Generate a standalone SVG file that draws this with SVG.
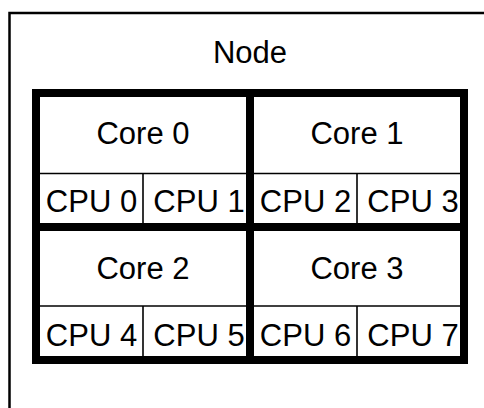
<svg xmlns="http://www.w3.org/2000/svg" width="484" height="408" viewBox="0 0 484 408">
  <style>
    .t { font-family: "Liberation Sans", Arial, sans-serif; font-size: 31px; fill: #000; text-anchor: middle; }
    .thick { fill: none; stroke: #000; stroke-width: 8; }
    .thin { fill: none; stroke: #000; stroke-width: 1.6; }
    .outer { fill: #fff; stroke: #000; stroke-width: 2.5; }
  </style>
  <rect width="484" height="408" fill="#fff"/>
  <g id="node">
    <rect class="outer" x="9.5" y="13" width="520" height="440"/>
    <text class="t" x="250" y="62.5">Node</text>
  </g>
  <g id="core0">
    <line class="thin" x1="40" y1="173.5" x2="246" y2="173.5"/>
    <g id="cpu0"><text class="t" x="91.5" y="211.5">CPU 0</text></g>
    <g id="cpu1"><line class="thin" x1="143" y1="173.5" x2="143" y2="223"/><text class="t" x="199" y="211.5">CPU 1</text></g>
    <rect class="thick" x="36" y="93" width="214" height="134"/>
    <text class="t" x="143" y="144">Core 0</text>
  </g>
  <g id="core1">
    <line class="thin" x1="254" y1="173.5" x2="460" y2="173.5"/>
    <g id="cpu2"><text class="t" x="305.5" y="211.5">CPU 2</text></g>
    <g id="cpu3"><line class="thin" x1="357" y1="173.5" x2="357" y2="223"/><text class="t" x="413" y="211.5">CPU 3</text></g>
    <rect class="thick" x="250" y="93" width="214" height="134"/>
    <text class="t" x="357" y="144">Core 1</text>
  </g>
  <g id="core2">
    <line class="thin" x1="40" y1="306" x2="246" y2="306"/>
    <g id="cpu4"><text class="t" x="91.5" y="345.5">CPU 4</text></g>
    <g id="cpu5"><line class="thin" x1="143" y1="306" x2="143" y2="356"/><text class="t" x="199" y="345.5">CPU 5</text></g>
    <rect class="thick" x="36" y="227" width="214" height="133"/>
    <text class="t" x="143" y="279">Core 2</text>
  </g>
  <g id="core3">
    <line class="thin" x1="254" y1="306" x2="460" y2="306"/>
    <g id="cpu6"><text class="t" x="305.5" y="345.5">CPU 6</text></g>
    <g id="cpu7"><line class="thin" x1="357" y1="306" x2="357" y2="356"/><text class="t" x="413" y="345.5">CPU 7</text></g>
    <rect class="thick" x="250" y="227" width="214" height="133"/>
    <text class="t" x="357" y="279">Core 3</text>
  </g>
  <g id="connectors"/>
</svg>
